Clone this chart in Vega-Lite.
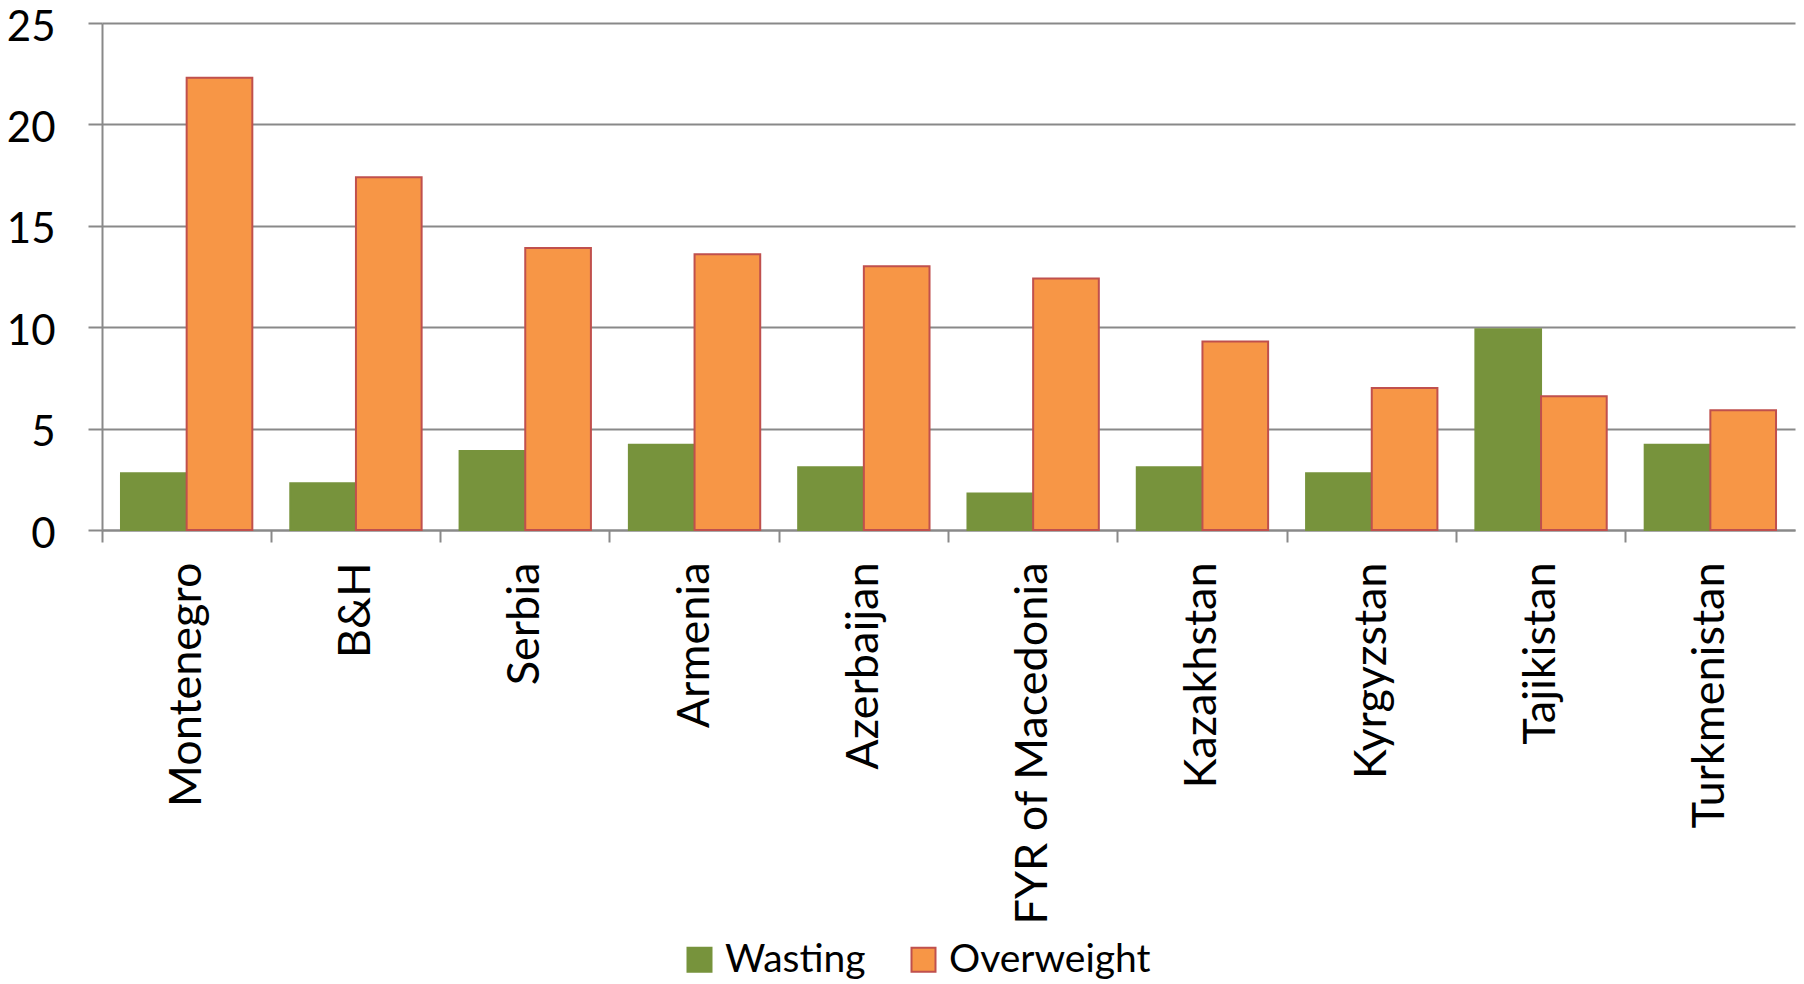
{
  "$schema": "https://vega.github.io/schema/vega-lite/v6.json",
  "width": 1693,
  "height": 507,
  "autosize": {"type": "none"},
  "padding": {"left": 102, "top": 23, "right": 9, "bottom": 454},
  "background": "white",
  "config": {
    "view": {"stroke": null},
    "font": "Lato",
    "axis": {"labelFont": "Lato", "labelColor": "#000000"},
    "legend": {"labelFont": "Lato", "labelColor": "#000000"}
  },
  "data": {
    "values": [
      {"country": "Montenegro", "series": "Wasting", "value": 2.8},
      {"country": "Montenegro", "series": "Overweight", "value": 22.3},
      {"country": "B&H", "series": "Wasting", "value": 2.3},
      {"country": "B&H", "series": "Overweight", "value": 17.4},
      {"country": "Serbia", "series": "Wasting", "value": 3.9},
      {"country": "Serbia", "series": "Overweight", "value": 13.9},
      {"country": "Armenia", "series": "Wasting", "value": 4.2},
      {"country": "Armenia", "series": "Overweight", "value": 13.6},
      {"country": "Azerbaijan", "series": "Wasting", "value": 3.1},
      {"country": "Azerbaijan", "series": "Overweight", "value": 13.0},
      {"country": "FYR of Macedonia", "series": "Wasting", "value": 1.8},
      {"country": "FYR of Macedonia", "series": "Overweight", "value": 12.4},
      {"country": "Kazakhstan", "series": "Wasting", "value": 3.1},
      {"country": "Kazakhstan", "series": "Overweight", "value": 9.3},
      {"country": "Kyrgyzstan", "series": "Wasting", "value": 2.8},
      {"country": "Kyrgyzstan", "series": "Overweight", "value": 7.0},
      {"country": "Tajikistan", "series": "Wasting", "value": 9.9},
      {"country": "Tajikistan", "series": "Overweight", "value": 6.6},
      {"country": "Turkmenistan", "series": "Wasting", "value": 4.2},
      {"country": "Turkmenistan", "series": "Overweight", "value": 5.9}
    ]
  },
  "mark": {"type": "bar", "strokeWidth": 2},
  "encoding": {
    "x": {
      "field": "country",
      "type": "nominal",
      "sort": null,
      "scale": {"paddingInner": 0, "paddingOuter": 0},
      "axis": {
        "title": null,
        "labelAngle": -90,
        "labelAlign": "right",
        "labelBaseline": "middle",
        "labelFontSize": 45,
        "labelLimit": 0,
        "labelPadding": 20,
        "bandPosition": 0,
        "ticks": true,
        "tickSize": 12,
        "tickColor": "#898989",
        "tickWidth": 2,
        "domainColor": "#898989",
        "domainWidth": 2,
        "grid": false
      }
    },
    "xOffset": {
      "field": "series",
      "type": "nominal",
      "sort": ["Wasting", "Overweight"],
      "scale": {"paddingInner": 0, "paddingOuter": 0.289}
    },
    "y": {
      "field": "value",
      "type": "quantitative",
      "scale": {"domain": [0, 25], "nice": false},
      "axis": {
        "title": null,
        "values": [0, 5, 10, 15, 20, 25],
        "labelFontSize": 42,
        "labelPadding": 33,
        "labelOffset": 4,
        "tickSize": 14,
        "tickColor": "#898989",
        "tickWidth": 2,
        "domainColor": "#898989",
        "domainWidth": 2,
        "gridColor": "#898989",
        "gridWidth": 2
      }
    },
    "color": {
      "field": "series",
      "type": "nominal",
      "sort": ["Wasting", "Overweight"],
      "scale": {"domain": ["Wasting", "Overweight"], "range": ["#77933C", "#F79646"]},
      "legend": {
        "title": null,
        "orient": "none",
        "direction": "horizontal",
        "legendX": 578,
        "legendY": 917,
        "symbolType": "square",
        "symbolSize": 576,
        "symbolStrokeWidth": 2,
        "labelFontSize": 39,
        "labelLimit": 0,
        "labelOffset": 6,
        "columnPadding": 38
      }
    },
    "stroke": {
      "field": "series",
      "type": "nominal",
      "sort": ["Wasting", "Overweight"],
      "scale": {"domain": ["Wasting", "Overweight"], "range": ["#77933C", "#C0504D"]}
    }
  }
}
